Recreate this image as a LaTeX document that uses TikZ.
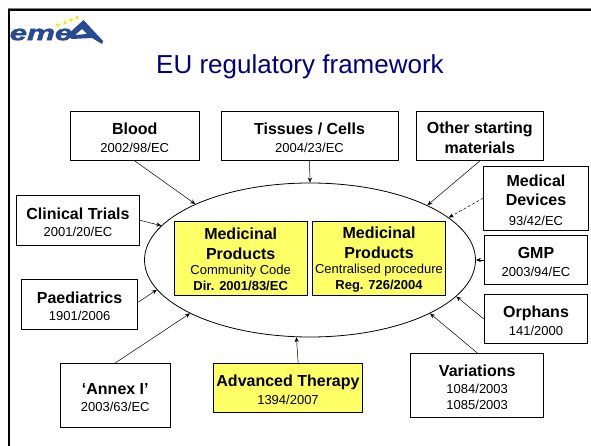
\documentclass[tikz,border=0pt]{standalone}
\usepackage{fontspec}
\setmainfont{Liberation Sans}
\usetikzlibrary{shapes, arrows, arrows.meta}
\definecolor{logoblue}{HTML}{284A94}
\definecolor{titleblue}{HTML}{000080}
\definecolor{boxyellow}{HTML}{FFFF66}
\newcommand{\hdn}{\bfseries\fontsize{16}{16}\selectfont}
\newcommand{\hd}{\rule{0pt}{15.5pt}\hdn}
\newcommand{\hdb}{\rule{0pt}{13.7pt}\hdn}
\newcommand{\law}{\normalfont\fontsize{13}{16}\selectfont}
\newcommand{\lawb}{\bfseries\fontsize{13}{16}\selectfont}
\tikzstyle{refbox} = [rectangle, text centered, align=center, inner sep=0pt, draw=black, line width=0.8pt, fill=white, font=\fontsize{13}{16}\selectfont]
\tikzstyle{codebox} = [refbox, fill=boxyellow, minimum height=74pt]
\tikzstyle{edge} = [line width=0.5pt, -{Stealth[length=5pt, width=4.2pt]}]
\tikzstyle{logostar} = [star, star points=5, star point ratio=2.2, fill=yellow!90!orange, inner sep=0pt, minimum size=5pt]

\begin{document}
\begin{tikzpicture}[x=1pt, y=-1pt, node distance=60pt]
\useasboundingbox (0,0) rectangle (591,446);

% frame
\draw [gray, line width=0.8pt] (8,446) -- (8,8.5) -- (591,8.5);
\draw [line width=2.6pt] (8.8,446) -- (8.8,10.2) -- (591,10.2);

% logo
\node (logo) [text=logoblue, font=\bfseries\itshape\fontsize{25}{25}\selectfont\addfontfeature{FakeBold=2}, xscale=1.25, yscale=0.85, inner sep=0pt] at (41,34.5) {eme};
\fill [logoblue, even odd rule] (83.5,20) -- (103,41) -- (102,44) -- (92,38) -- (72,39) -- (66,36) -- cycle (82,29) -- (75,35) -- (87,34) -- cycle;
\foreach \i/\x/\y in {a/58/25, b/65/22.5, c/71/20, d/77/17.5}
  \node (star\i) [logostar] at (\x,\y) {};

% title
\node (title) [text=titleblue, font=\fontsize{26}{30}\selectfont, inner sep=0pt] at (300,67) {EU regulatory framework};

% scope of the law
\node (law) [ellipse, draw=black, line width=0.8pt, minimum width=331pt, minimum height=154pt, inner sep=0pt] at (310,260) {};
\node (community) [codebox, minimum width=132.5pt] at (240.7,258.3) {\hdb Medicinal\\[4pt]\hdn Products\\[-1pt]\law Community Code\\\lawb Dir. 2001/83/EC};
\node (central) [codebox, minimum width=133.5pt] at (379,258.3) {\hdb Medicinal\\[4pt]\hdn Products\\[-1pt]\law Centralised procedure\\\lawb Reg. 726/2004};

% boxes round it
\node (blood) [refbox, minimum width=128.5pt, minimum height=49.5pt] at (134.8,135.8) {\hd Blood\\[1.5pt]\law 2002/98/EC};
\node (tissues) [refbox, minimum width=177pt, minimum height=49.5pt] at (309.5,135.8) {\hd Tissues / Cells\\[1.5pt]\law 2004/23/EC};
\node (starting) [refbox, minimum width=127.5pt, minimum height=49.5pt] at (479.8,135.8) {\hd Other starting\\[3.5pt]\hdn materials};
\node (clinical) [refbox, minimum width=123.5pt, minimum height=49.5pt] at (78,220.3) {\hd Clinical Trials\\[1.5pt]\law 2001/20/EC};
\node (paediatrics) [refbox, minimum width=116.5pt, minimum height=49.5pt] at (79.6,304.2) {\hd Paediatrics\\[1.5pt]\law 1901/2006};
\node (devices) [refbox, minimum width=104.3pt, minimum height=64pt] at (536,198) {\hd Medical\\[3pt]\hdn Devices\\[4pt]\law 93/42/EC};
\node (gmp) [refbox, minimum width=103.5pt, minimum height=49.5pt, below of=devices, yshift=-2pt] {\hd GMP\\[1.5pt]\law 2003/94/EC};
\node (orphans) [refbox, minimum width=103.5pt, minimum height=49.5pt, below of=gmp, yshift=1pt] {\hd Orphans\\[1.5pt]\law 141/2000};
\node (annex) [refbox, minimum width=110pt, minimum height=64pt] at (115.3,395.3) {\hd `Annex I'\\[1.5pt]\law 2003/63/EC};
\node (advanced) [refbox, fill=boxyellow, minimum width=149.4pt, minimum height=49.5pt] at (288,388) {\hd Advanced Therapy\\[1.5pt]\law 1394/2007};
\node (variations) [refbox, minimum width=133pt, minimum height=64.4pt] at (477.2,385.5) {\hd Variations\\[1.5pt]\law 1084/2003\\\law 1085/2003};

\draw [edge] (blood.south) -- (law.154.9);
\draw [edge] (tissues.south) -- (law.north);
\draw [edge] (starting.south) -- (law.25.2);
\draw [edge, densely dashed] (devices.west) -- (law.17.5);
\draw [edge] (gmp.west) -- (law.east);
\draw [edge] (orphans.west) -- (law.-14.1);
\draw [edge] (variations.north) -- (law.-24.5);
\draw [edge] (advanced.68.6) -- (law.260.9);
\draw [edge] (annex.north) -- (law.204.5);
\draw [edge] (paediatrics.2.3) -- (law.191);
\draw [edge] (clinical.east) -- (law.167.2);

\end{tikzpicture}
\end{document}
